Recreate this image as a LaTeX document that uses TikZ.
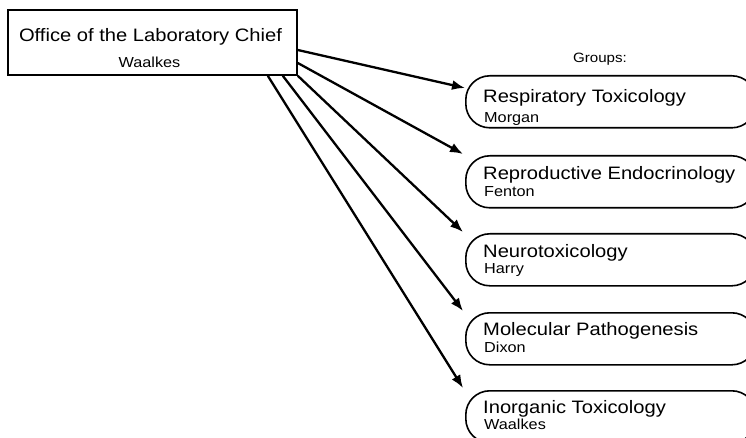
\documentclass[tikz,border=0pt]{standalone}
\usepackage{fontspec}
\setmainfont{Liberation Sans}[FakeStretch=1.12]
\usetikzlibrary{arrows.meta}
\begin{document}
\begin{tikzpicture}[x=1pt,y=-1pt,
  box/.style={draw, line width=1.6pt, inner sep=0pt},
  grp/.style={box, rounded corners=24pt, minimum width=290pt, minimum height=52pt, anchor=north west},
  big/.style={font=\fontsize{18}{20}\selectfont, inner sep=0pt},
  small/.style={font=\fontsize{14.5}{16}\selectfont, inner sep=0pt},
  arr/.style={line width=2.3pt, -{Latex[length=13pt,width=10pt]}}]
\useasboundingbox (0,0) rectangle (746,438);
\clip (0,0) rectangle (746,438);
% office
\node[box, minimum width=289pt, minimum height=65pt] (office) at (152.5,42.5) {};
\node[big, anchor=base] (otitle) at (150.5,42) {Office of the Laboratory Chief};
\node[small, anchor=base] (oname) at (149.5,68) {Waalkes};
\node[font=\fontsize{13.5}{16}\selectfont, inner sep=0pt, anchor=base] (groups) at (600,63) {Groups:};
% groups
\node[grp] (g1) at (465,75) {};
\node[grp] (g2) at (465,155) {};
\node[grp] (g3) at (465,233) {};
\node[grp] (g4) at (465,312) {};
\node[grp] (g5) at (465,390) {};
\node[big, anchor=base west] (t1) at (483,103) {Respiratory Toxicology};
\node[small, anchor=base west] (n1) at (484,123) {Morgan};
\node[big, anchor=base west] (t2) at (483,180) {Reproductive Endocrinology};
\node[small, anchor=base west] (n2) at (484,197) {Fenton};
\node[big, anchor=base west] (t3) at (483,257) {Neurotoxicology};
\node[small, anchor=base west] (n3) at (484,273) {Harry};
\node[big, anchor=base west] (t4) at (483,335) {Molecular Pathogenesis};
\node[small, anchor=base west] (n4) at (484,352) {Dixon};
\node[big, anchor=base west] (t5) at (483,413) {Inorganic Toxicology};
\node[small, anchor=base west] (n5) at (484,429) {Waalkes};
% arrows
\draw[arr] ([yshift=-7.5pt]office.east) -- ([shift={(0pt,-13pt)}]g1.north west);
\draw[arr] ([yshift=-20.5pt]office.east) -- ([shift={(-2pt,1pt)}]g2.north west);
\draw[arr] (office.south east) -- ([shift={(-2pt,1pt)}]g3.north west);
\draw[arr] ([xshift=-15pt]office.south east) -- ([shift={(-2pt,1pt)}]g4.north west);
\draw[arr] ([xshift=-30pt]office.south east) -- ([shift={(-2pt,2pt)}]g5.north west);
\end{tikzpicture}
\end{document}
